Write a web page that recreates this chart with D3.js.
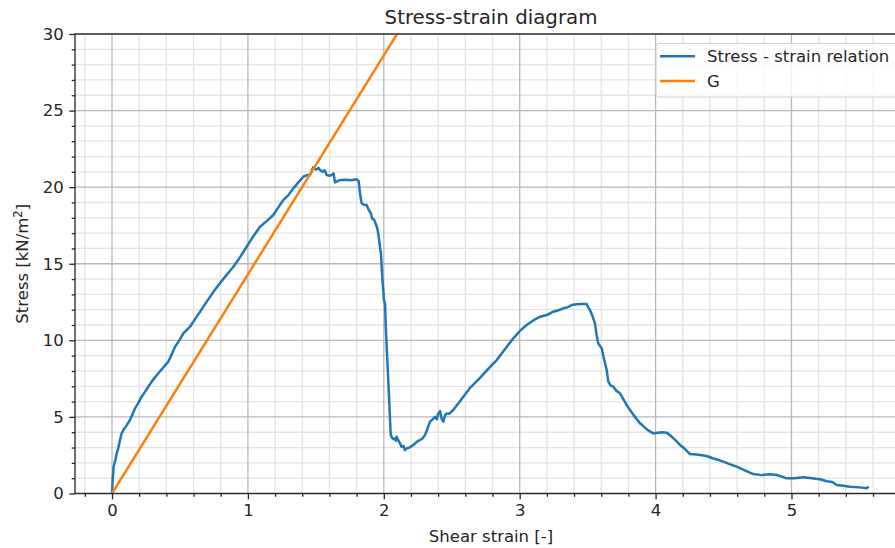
<!DOCTYPE html>
<html>
<head>
<meta charset="utf-8">
<script src="https://cdn.jsdelivr.net/npm/d3@7"></script>
<style>
  html, body { margin: 0; padding: 0; background: #fff; overflow: hidden; }
  svg { display: block; font-family: "DejaVu Sans", sans-serif; }
</style>
</head>
<body>
<svg id="chart" width="895" height="548"></svg>
<script>
// Measured shear strain [-] and stress [kN/m²]
const strain = [
  0, 0.005, 0.012, 0.025, 0.035, 0.047, 0.059, 0.07, 0.083, 0.1, 0.115, 0.132, 0.15, 0.169, 0.19,
  0.218, 0.24, 0.267, 0.30, 0.341, 0.38, 0.414, 0.44, 0.464, 0.495, 0.525, 0.574, 0.62, 0.68, 0.745,
  0.80, 0.893, 0.94, 0.991, 1.04, 1.089, 1.14, 1.187, 1.225, 1.26, 1.30, 1.334, 1.37, 1.408, 1.44,
  1.457, 1.47, 1.481, 1.50, 1.52, 1.531, 1.55, 1.565, 1.58, 1.60, 1.617, 1.63, 1.641, 1.66, 1.678,
  1.72, 1.76, 1.80, 1.815, 1.825, 1.837, 1.855, 1.874, 1.89, 1.905, 1.915, 1.93, 1.945, 1.955, 1.965,
  1.975, 1.979, 1.985, 1.99, 1.997, 2.001, 2.009, 2.015, 2.021, 2.027, 2.033, 2.042, 2.051, 2.06, 2.07,
  2.082, 2.09, 2.095, 2.105, 2.119, 2.13, 2.145, 2.156, 2.17, 2.19, 2.217, 2.24, 2.266, 2.285, 2.303,
  2.32, 2.34, 2.36, 2.377, 2.39, 2.40, 2.414, 2.425, 2.438, 2.45, 2.463, 2.48, 2.511, 2.55, 2.585,
  2.64, 2.708, 2.77, 2.831, 2.89, 2.953, 3.0, 3.051, 3.1, 3.149, 3.2, 3.247, 3.28, 3.321, 3.35,
  3.383, 3.42, 3.46, 3.493, 3.505, 3.517, 3.535, 3.554, 3.565, 3.578, 3.603, 3.62, 3.64, 3.652, 3.67,
  3.689, 3.712, 3.738, 3.76, 3.787, 3.812, 3.84, 3.885, 3.898, 3.94, 3.983, 4.02, 4.05, 4.082, 4.12,
  4.15, 4.18, 4.21, 4.253, 4.30, 4.34, 4.376, 4.42, 4.46, 4.498, 4.55, 4.597, 4.66, 4.719, 4.78,
  4.84, 4.891, 4.93, 4.964, 5.02, 5.087, 5.15, 5.21, 5.26, 5.30, 5.333, 5.38, 5.43, 5.50, 5.553, 5.56
];
const stress = [
  0, 0.9, 1.75, 2.2, 2.62, 3.0, 3.49, 3.9, 4.14, 4.35, 4.55, 4.80, 5.15, 5.56, 5.85,
  6.32, 6.6, 6.97, 7.4, 7.85, 8.25, 8.6, 9.1, 9.58, 10.0, 10.45, 10.89, 11.5, 12.3, 13.15,
  13.8, 14.8, 15.4, 16.11, 16.8, 17.42, 17.8, 18.18, 18.7, 19.16, 19.5, 19.92, 20.3, 20.68, 20.8,
  20.79, 21.1, 21.29, 21.15, 21.25, 21.12, 21.0, 21.1, 20.79, 20.75, 20.79, 20.9, 20.31, 20.4, 20.46,
  20.48, 20.45, 20.51, 20.4, 19.6, 18.94, 18.85, 18.83, 18.5, 18.3, 17.95, 17.85, 17.5, 17.2, 16.6,
  15.9, 15.68, 14.7, 13.94, 13.2, 12.63, 12.41, 10.8, 9.58, 8.5, 7.41, 5.6, 3.82, 3.65, 3.55,
  3.6, 3.45, 3.71, 3.5, 3.28, 3.05, 3.1, 2.84, 2.95, 3.0, 3.17, 3.35, 3.49, 3.6, 3.82,
  4.2, 4.69, 4.85, 5.01, 4.85, 5.2, 5.38, 4.9, 4.69, 5.1, 5.23, 5.2, 5.45, 5.9, 6.32,
  6.95, 7.55, 8.15, 8.71, 9.4, 10.13, 10.6, 11.0, 11.3, 11.54, 11.65, 11.87, 11.95, 12.09, 12.15,
  12.3, 12.35, 12.38, 12.37, 12.15, 11.98, 11.6, 11.11, 10.4, 9.8, 9.48, 8.8, 8.06, 7.3, 7.05,
  6.97, 6.7, 6.54, 6.2, 5.78, 5.45, 5.1, 4.58, 4.5, 4.15, 3.93, 3.97, 4.0, 3.97, 3.7,
  3.45, 3.17, 2.95, 2.58, 2.55, 2.5, 2.45, 2.3, 2.2, 2.08, 1.9, 1.75, 1.5, 1.27, 1.2,
  1.25, 1.21, 1.1, 0.99, 1.0, 1.06, 1.0, 0.93, 0.8, 0.75, 0.55, 0.5, 0.44, 0.4, 0.34, 0.4
];
// Shear modulus line: stress = G * strain
const shearModulus = 14.3;
const seriesNames = ["Stress - strain relation", "G"];
const seriesColors = ["#1f77b4", "#ff7f0e"];
const xTicks = [0, 1, 2, 3, 4, 5];
const yTicks = [0, 5, 10, 15, 20, 25, 30];

const svg = d3.select("#chart");
const plot = { left: 75, right: 907, top: 34, bottom: 493.5 };
const fs = 16.5;          // base font size
const axisColor = "#262626";

const x = d3.scaleLinear().domain([-0.2723, 5.85]).range([plot.left, plot.right]);
const y = d3.scaleLinear().domain([0, 30]).range([plot.bottom, plot.top]);

const xMinor = d3.range(-0.2, 5.85, 0.2).map(v => +v.toFixed(1)).filter(v => Math.abs(v - Math.round(v)) > 1e-6);
const yMinor = d3.range(0, 30.01, 1).filter(v => v % 5 !== 0);

svg.append("clipPath").attr("id", "plotClip")
  .append("rect")
  .attr("x", plot.left).attr("y", plot.top)
  .attr("width", plot.right - plot.left).attr("height", plot.bottom - plot.top);

// grid: minor first, then major
const grid = svg.append("g");
grid.selectAll(".gxm").data(xMinor).join("line")
  .attr("x1", d => x(d)).attr("x2", d => x(d)).attr("y1", plot.top).attr("y2", plot.bottom)
  .attr("stroke", "#e3e3e3").attr("stroke-width", 1.3);
grid.selectAll(".gym").data(yMinor).join("line")
  .attr("y1", d => y(d)).attr("y2", d => y(d)).attr("x1", plot.left).attr("x2", plot.right)
  .attr("stroke", "#e3e3e3").attr("stroke-width", 1.3);
grid.selectAll(".gx").data(xTicks).join("line")
  .attr("x1", d => x(d)).attr("x2", d => x(d)).attr("y1", plot.top).attr("y2", plot.bottom)
  .attr("stroke", "#b8b8b8").attr("stroke-width", 1.3);
grid.selectAll(".gy").data(yTicks).join("line")
  .attr("y1", d => y(d)).attr("y2", d => y(d)).attr("x1", plot.left).attr("x2", plot.right)
  .attr("stroke", "#b8b8b8").attr("stroke-width", 1.3);

// data lines
const pts = strain.map((s, i) => [s, stress[i]]);
const line = d3.line().x(d => x(d[0])).y(d => y(d[1]));
const lines = svg.append("g").attr("clip-path", "url(#plotClip)");
lines.append("path").datum(pts).attr("d", line)
  .attr("fill", "none").attr("stroke", seriesColors[0]).attr("stroke-width", 2.5)
  .attr("stroke-linejoin", "round").attr("stroke-linecap", "square");
const gPts = [[0, 0], [strain[strain.length - 1], shearModulus * strain[strain.length - 1]]];
lines.append("path").datum(gPts).attr("d", line)
  .attr("fill", "none").attr("stroke", seriesColors[1]).attr("stroke-width", 2.5);

// axes
const xAxis = svg.append("g").attr("transform", `translate(0,${plot.bottom})`)
  .call(d3.axisBottom(x).tickValues(xTicks).tickFormat(d3.format("d")).tickSize(5.8).tickPadding(5.2));
const yAxis = svg.append("g").attr("transform", `translate(${plot.left},0)`)
  .call(d3.axisLeft(y).tickValues(yTicks).tickFormat(d3.format("d")).tickSize(5.8).tickPadding(5.5));
svg.append("g").attr("transform", `translate(0,${plot.bottom})`)
  .call(d3.axisBottom(x).tickValues(xMinor).tickFormat("").tickSize(3.3))
  .call(g => g.select(".domain").remove());
svg.append("g").attr("transform", `translate(${plot.left},0)`)
  .call(d3.axisLeft(y).tickValues(yMinor).tickFormat("").tickSize(3.3))
  .call(g => g.select(".domain").remove());
svg.selectAll(".tick line").attr("stroke", axisColor).attr("stroke-width", 1.3);
[xAxis, yAxis].forEach(a => {
  a.select(".domain").remove();
  a.selectAll("text").attr("font-size", fs).attr("fill", axisColor)
    .attr("font-family", "DejaVu Sans, sans-serif");
});

// spines
svg.append("rect")
  .attr("x", plot.left).attr("y", plot.top)
  .attr("width", plot.right - plot.left).attr("height", plot.bottom - plot.top)
  .attr("fill", "none").attr("stroke", axisColor).attr("stroke-width", 1.3);

// titles
svg.append("text").attr("x", (plot.left + plot.right) / 2).attr("y", 24)
  .attr("text-anchor", "middle").attr("font-size", 19.8).attr("fill", axisColor)
  .text("Stress-strain diagram");
svg.append("text").attr("x", (plot.left + plot.right) / 2).attr("y", 541.5)
  .attr("text-anchor", "middle").attr("font-size", fs).attr("fill", axisColor)
  .text("Shear strain [-]");
const yl = svg.append("text")
  .attr("transform", `translate(28,${(plot.top + plot.bottom) / 2}) rotate(-90)`)
  .attr("text-anchor", "middle").attr("font-size", fs).attr("fill", axisColor);
yl.append("tspan").text("Stress [kN/m");
yl.append("tspan").attr("dy", -6).attr("font-size", 11.6).text("2");
yl.append("tspan").attr("dy", 6).text("]");

// legend
const legend = svg.append("g");
legend.append("rect")
  .attr("x", 656).attr("y", 43.5).attr("width", 244).attr("height", 53.5)
  .attr("rx", 3).attr("fill", "#fff").attr("fill-opacity", 0.8)
  .attr("stroke", "#d0d0d0").attr("stroke-width", 1);
seriesNames.forEach((name, i) => {
  const cy = 56.3 + i * 24.7;
  legend.append("line").attr("x1", 660).attr("x2", 695).attr("y1", cy).attr("y2", cy)
    .attr("stroke", seriesColors[i]).attr("stroke-width", 2.5);
  legend.append("text").attr("x", 707).attr("y", cy + 6)
    .attr("font-size", fs).attr("fill", axisColor).text(name);
});
</script>
</body>
</html>
